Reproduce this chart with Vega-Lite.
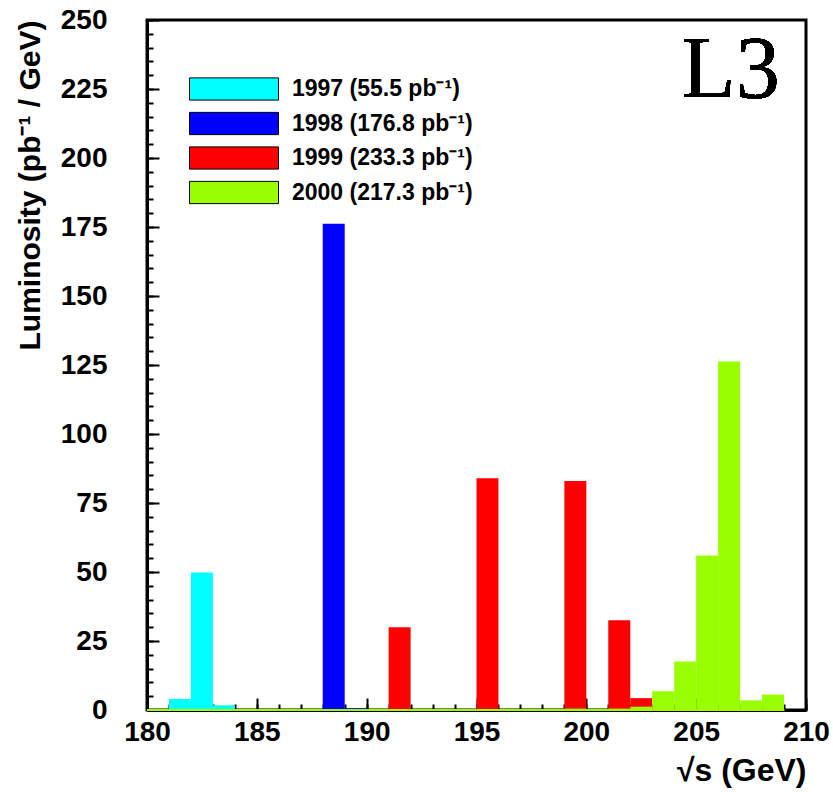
{
  "$schema": "https://vega.github.io/schema/vega-lite/v6.json",
  "width": 659,
  "height": 690,
  "autosize": "none",
  "padding": {"left": 147, "top": 20, "right": 27, "bottom": 82},
  "background": "white",
  "config": {
    "view": {"stroke": "black", "strokeWidth": 3},
    "font": "Liberation Sans"
  },
  "data": {
    "values": [
      {"year": "1997 (55.5 pb⁻¹)", "lo": 181, "hi": 182, "lum": 4.0},
      {"year": "1997 (55.5 pb⁻¹)", "lo": 182, "hi": 183, "lum": 49.8},
      {"year": "1997 (55.5 pb⁻¹)", "lo": 183, "hi": 184, "lum": 1.7},
      {"year": "1998 (176.8 pb⁻¹)", "lo": 188, "hi": 189, "lum": 176.2},
      {"year": "1998 (176.8 pb⁻¹)", "lo": 189, "hi": 190, "lum": 0.6},
      {"year": "1999 (233.3 pb⁻¹)", "lo": 191, "hi": 192, "lum": 30.0},
      {"year": "1999 (233.3 pb⁻¹)", "lo": 195, "hi": 196, "lum": 84.0},
      {"year": "1999 (233.3 pb⁻¹)", "lo": 199, "hi": 200, "lum": 83.0},
      {"year": "1999 (233.3 pb⁻¹)", "lo": 201, "hi": 202, "lum": 32.5},
      {"year": "1999 (233.3 pb⁻¹)", "lo": 202, "hi": 203, "lum": 4.3},
      {"year": "2000 (217.3 pb⁻¹)", "lo": 199, "hi": 200, "lum": 0.5},
      {"year": "2000 (217.3 pb⁻¹)", "lo": 201, "hi": 202, "lum": 0.5},
      {"year": "2000 (217.3 pb⁻¹)", "lo": 202, "hi": 203, "lum": 1.2},
      {"year": "2000 (217.3 pb⁻¹)", "lo": 203, "hi": 204, "lum": 6.8},
      {"year": "2000 (217.3 pb⁻¹)", "lo": 204, "hi": 205, "lum": 17.6},
      {"year": "2000 (217.3 pb⁻¹)", "lo": 205, "hi": 206, "lum": 56.0},
      {"year": "2000 (217.3 pb⁻¹)", "lo": 206, "hi": 207, "lum": 126.3},
      {"year": "2000 (217.3 pb⁻¹)", "lo": 207, "hi": 208, "lum": 3.5},
      {"year": "2000 (217.3 pb⁻¹)", "lo": 208, "hi": 209, "lum": 5.6}
    ]
  },
  "resolve": {"axis": {"x": "independent", "y": "independent"}},
  "layer": [
    {
      "mark": {"type": "bar", "clip": true},
      "encoding": {
        "x": {
          "field": "lo", "type": "quantitative",
          "scale": {"domain": [180, 210], "nice": false, "zero": false},
          "axis": {
            "orient": "bottom",
            "values": [180, 185, 190, 195, 200, 205, 210],
            "title": "√s (GeV)",
            "titleAnchor": "end",
            "titleFontSize": 32,
            "titleFontWeight": "bold",
            "titleColor": "black",
            "titlePadding": 9,
            "labelFontSize": 28,
            "labelFontWeight": "bold",
            "labelColor": "black",
            "labelPadding": 20,
            "labelFlush": false,
            "tickSize": -12,
            "tickWidth": 2,
            "tickColor": "black",
            "domainColor": "black",
            "domainWidth": 3,
            "grid": false
          }
        },
        "x2": {"field": "hi"},
        "y": {
          "field": "lum", "type": "quantitative", "stack": null,
          "scale": {"domain": [0, 250], "nice": false},
          "axis": {
            "orient": "left",
            "values": [0, 25, 50, 75, 100, 125, 150, 175, 200, 225, 250],
            "title": "Luminosity (pb⁻¹ / GeV)",
            "titleAnchor": "end",
            "titleFontSize": 30,
            "titleFontWeight": "bold",
            "titleColor": "black",
            "titlePadding": 15,
            "labelFontSize": 28,
            "labelFontWeight": "bold",
            "labelColor": "black",
            "labelPadding": 52,
            "labelFlush": false,
            "tickSize": -12,
            "tickWidth": 2,
            "tickColor": "black",
            "domainColor": "black",
            "domainWidth": 3,
            "grid": false
          }
        },
        "y2": {"datum": 0},
        "color": {
          "field": "year", "type": "nominal",
          "scale": {
            "domain": ["1997 (55.5 pb⁻¹)", "1998 (176.8 pb⁻¹)", "1999 (233.3 pb⁻¹)", "2000 (217.3 pb⁻¹)"],
            "range": ["#00FFFF", "#0000FF", "#FF0000", "#99FF00"]
          },
          "legend": {
            "title": null,
            "orient": "none",
            "legendX": 75,
            "legendY": 57,
            "symbolType": "M-4,-1H4V1H-4Z",
            "symbolSize": 495,
            "symbolStrokeColor": "black",
            "symbolStrokeWidth": 1,
            "symbolOpacity": 1,
            "labelFontSize": 23,
            "labelFontWeight": "bold",
            "labelColor": "black",
            "labelOffset": 46,
            "labelLimit": 400,
            "rowPadding": 6.5
          }
        }
      }
    },
    {
      "mark": {"type": "rule", "color": "#99FF00", "strokeWidth": 2},
      "encoding": {
        "x": {
          "datum": 180, "type": "quantitative",
          "axis": {
            "orient": "bottom",
            "values": [180,181,182,183,184,185,186,187,188,189,190,191,192,193,194,195,196,197,198,199,200,201,202,203,204,205,206,207,208,209,210],
            "labels": false, "title": null, "domain": false, "grid": false,
            "tickSize": -6, "tickWidth": 2, "tickColor": "black"
          }
        },
        "x2": {"datum": 209},
        "y": {
          "datum": 0, "type": "quantitative",
          "axis": {
            "orient": "left",
            "values": [0,5,10,15,20,25,30,35,40,45,50,55,60,65,70,75,80,85,90,95,100,105,110,115,120,125,130,135,140,145,150,155,160,165,170,175,180,185,190,195,200,205,210,215,220,225,230,235,240,245,250],
            "labels": false, "title": null, "domain": false, "grid": false,
            "tickSize": -6, "tickWidth": 2, "tickColor": "black"
          }
        }
      }
    },
    {
      "mark": {"type": "text", "text": "L3", "font": "Liberation Serif", "fontSize": 88, "align": "right", "baseline": "alphabetic", "color": "black"},
      "encoding": {
        "x": {"datum": 208.8, "type": "quantitative", "axis": null},
        "y": {"datum": 222.2, "type": "quantitative", "axis": null}
      }
    }
  ]
}
